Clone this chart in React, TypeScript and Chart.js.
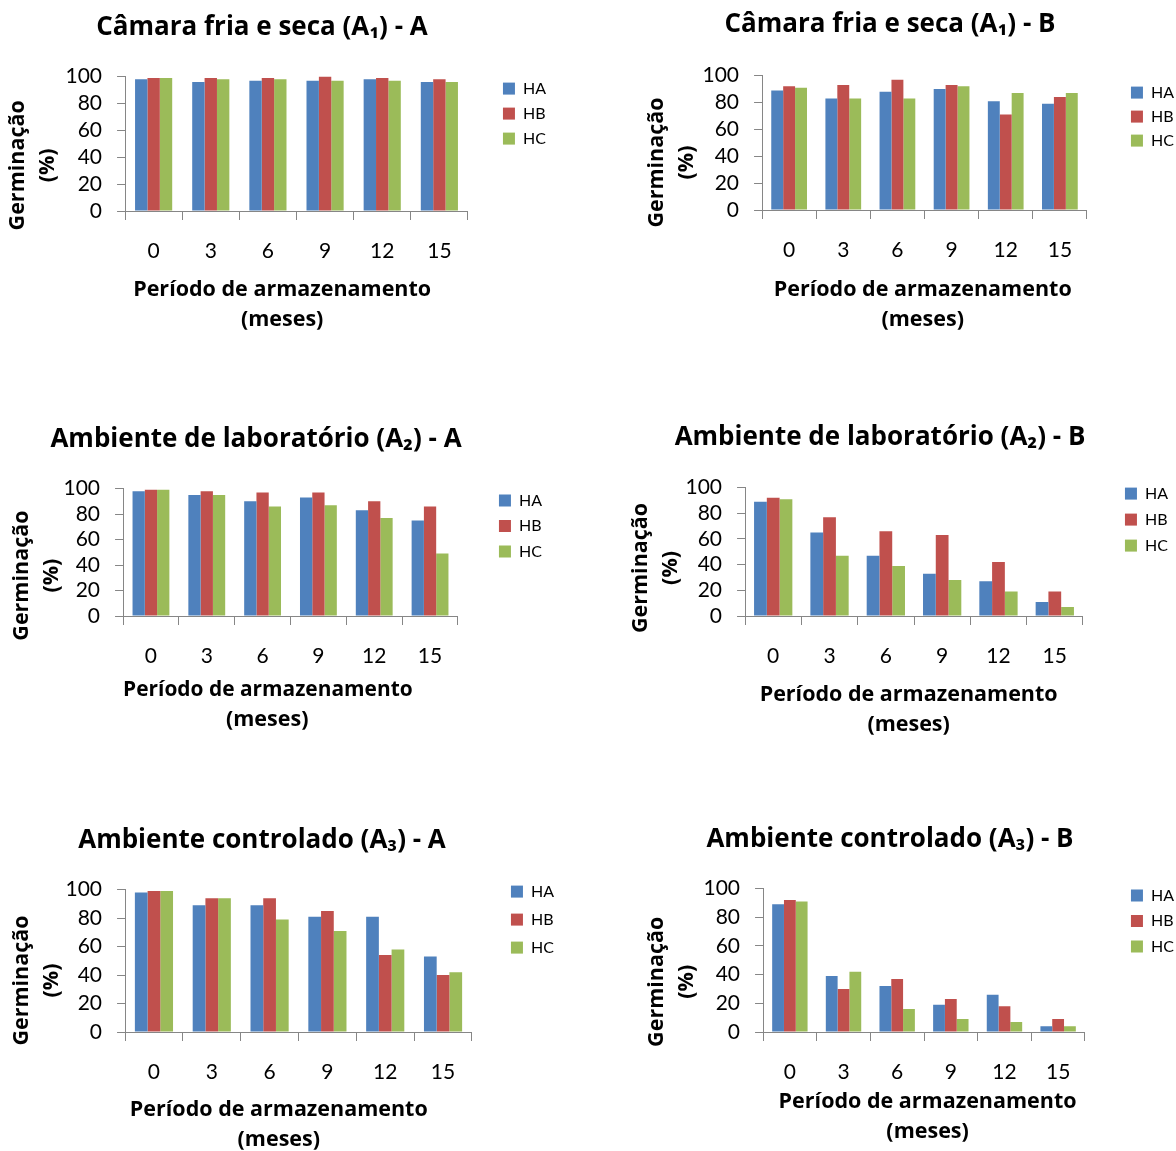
import React, { useEffect, useRef } from 'react';
import { Chart, registerables } from 'chart.js';

Chart.register(...registerables);

// ---------- data ----------
const periods = ['0', '3', '6', '9', '12', '15'];
const seriesNames = ['HA', 'HB', 'HC'];
const seriesColors = ['#4F81BD', '#C0504D', '#9BBB59'];
const yMin = 0;
const yMax = 100;
const yStep = 20;

const a1A_HA = [98, 96, 97, 97, 98, 96];
const a1A_HB = [99, 99, 99, 100, 99, 98];
const a1A_HC = [99, 98, 98, 97, 97, 96];

const a1B_HA = [89, 83, 88, 90, 81, 79];
const a1B_HB = [92, 93, 97, 93, 71, 84];
const a1B_HC = [91, 83, 83, 92, 87, 87];

const a2A_HA = [98, 95, 90, 93, 83, 75];
const a2A_HB = [99, 98, 97, 97, 90, 86];
const a2A_HC = [99, 95, 86, 87, 77, 49];

const a2B_HA = [89, 65, 47, 33, 27, 11];
const a2B_HB = [92, 77, 66, 63, 42, 19];
const a2B_HC = [91, 47, 39, 28, 19, 7];

const a3A_HA = [98, 89, 89, 81, 81, 53];
const a3A_HB = [99, 94, 94, 85, 54, 40];
const a3A_HC = [99, 94, 79, 71, 58, 42];

const a3B_HA = [89, 39, 32, 19, 26, 4];
const a3B_HB = [92, 30, 37, 23, 18, 9];
const a3B_HC = [91, 42, 16, 9, 7, 4];

const panelTitles = [
  'Câmara fria e seca (A\u2081) - A',
  'Câmara fria e seca (A\u2081) - B',
  'Ambiente de laboratório (A\u2082) - A',
  'Ambiente de laboratório (A\u2082) - B',
  'Ambiente controlado (A\u2083) - A',
  'Ambiente controlado (A\u2083) - B',
];
const yTitleLines = ['Germinação', '(%)'];
const xTitleLines = ['Período de armazenamento', '(meses)'];

const panelSeries = [
  [a1A_HA, a1A_HB, a1A_HC],
  [a1B_HA, a1B_HB, a1B_HC],
  [a2A_HA, a2A_HB, a2A_HC],
  [a2B_HA, a2B_HB, a2B_HC],
  [a3A_HA, a3A_HB, a3A_HC],
  [a3B_HA, a3B_HB, a3B_HC],
];

// ---------- layout (page pixel targets) ----------
type Geo = {
  tcx: number; ty: number; cl: number; cr: number; ct: number; cb: number;
  gx: number; gyc: number; xcx: number; xl2: number; boxX: number; row1: number; rowGap: number;
  catPct: number;
};
const geos: Geo[] = [
  { tcx: 262, ty: 28, cl: 125, cr: 468, ct: 77, cb: 211, gx: 18, gyc: 165, xcx: 283, xl2: 320, boxX: 503, row1: 89, rowGap: 25, catPct: 0.65 },
  { tcx: 890, ty: 25, cl: 762, cr: 1087, ct: 76, cb: 210, gx: 657, gyc: 163, xcx: 922, xl2: 320, boxX: 1131, row1: 93, rowGap: 24, catPct: 0.66 },
  { tcx: 256, ty: 440, cl: 123, cr: 458, ct: 489, cb: 616, gx: 22, gyc: 575, xcx: 267, xl2: 720, boxX: 499, row1: 501, rowGap: 25.5, catPct: 0.66 },
  { tcx: 880, ty: 438, cl: 745, cr: 1083, ct: 488, cb: 616, gx: 641, gyc: 568, xcx: 908, xl2: 725, boxX: 1125, row1: 494, rowGap: 26, catPct: 0.68 },
  { tcx: 262, ty: 841, cl: 125, cr: 472, ct: 890, cb: 1032, gx: 22, gyc: 980, xcx: 279, xl2: 1140, boxX: 511, row1: 892, rowGap: 28, catPct: 0.66 },
  { tcx: 890, ty: 840, cl: 763, cr: 1085, ct: 889, cb: 1032, gx: 657, gyc: 982, xcx: 927, xl2: 1132, boxX: 1131, row1: 896, rowGap: 25.5, catPct: 0.66 },
];

const FONT = "Lato, 'Noto Sans', 'DejaVu Sans', sans-serif";
const TFONT = "'Open Sans', 'Noto Sans', 'DejaVu Sans', sans-serif";
const TITLE_SIZE = 26;
const TITLE_LH = TITLE_SIZE * 1.2;
const TITLE_PAD_TOP = 4;
const TICK_SIZE = 21;
const AXT_SIZE = 21.5;
const AXT_LH = 30;
const LEG_SIZE = 16;
const LEG_BOX = 12;
const AXIS_COLOR = '#868686';

function spaces(px: number, size: number): string {
  if (px <= 0) return '';
  const n = Math.floor(px / size);
  const rem = px - n * size;
  const m = Math.round(rem / (size / 6));
  return '\u2003'.repeat(n) + '\u2006'.repeat(m);
}

function measureLegend(): number {
  const c = document.createElement('canvas').getContext('2d');
  if (!c) return 24;
  c.font = `${LEG_SIZE}px ${FONT}`;
  return Math.max(...seriesNames.map((s) => c.measureText(s).width));
}

function Panel({ idx }: { idx: number }) {
  const ref = useRef<HTMLCanvasElement | null>(null);
  const g = geos[idx];
  const textW = measureLegend();
  const p = g.rowGap - LEG_SIZE;
  const itemW = LEG_BOX + LEG_SIZE / 2 + textW;
  const legendW = p + itemW + 10;
  const canvasRight = g.boxX - p + legendW;
  const L = 2 * g.tcx - canvasRight;
  const W = canvasRight - L;
  const T = g.ty - TITLE_PAD_TOP - TITLE_LH / 2;
  const H = g.xl2 + AXT_LH / 2 + 2 - T;
  const titlePadBottom = g.ct - T - TITLE_PAD_TOP - TITLE_LH;
  const legTitlePad = g.row1 - LEG_SIZE / 2 - p - T - 1;
  const xAxisH = T + H - g.cb;
  const yAxisW = g.cl - L;
  const gapW = g.boxX - p - g.cr;
  const yTitlePad = g.gx - L - AXT_LH / 2;
  const yShift = g.gyc - (g.ct + g.cb) / 2;
  const xShift = (g.cl + g.cr) / 2 - g.xcx;
  const ySp = spaces(2 * yShift, AXT_SIZE);
  const yText = yTitleLines.map((t) => t + ySp);
  const xText = xTitleLines.map((t) =>
    xShift >= 0 ? t + spaces(2 * xShift, AXT_SIZE) : spaces(-2 * xShift, AXT_SIZE) + t
  );

  useEffect(() => {
    if (!ref.current) return;
    const chart = new Chart(ref.current, {
      type: 'bar',
      data: {
        labels: periods,
        datasets: seriesNames.map((name, i) => ({
          label: name,
          data: panelSeries[idx][i],
          backgroundColor: seriesColors[i],
          borderWidth: 0,
          categoryPercentage: g.catPct,
          barPercentage: 1.0,
        })),
      },
      options: {
        responsive: false,
        animation: false,
        devicePixelRatio: 1,
        layout: { padding: 0 },
        plugins: {
          tooltip: { enabled: false },
          title: {
            display: true,
            text: panelTitles[idx],
            color: '#000',
            fullSize: true,
            font: { family: TFONT, size: TITLE_SIZE, weight: 'bold', lineHeight: 1.2 },
            padding: { top: TITLE_PAD_TOP, bottom: titlePadBottom },
          },
          legend: {
            display: true,
            position: 'right',
            align: 'start',
            fullSize: true,
            title: { display: true, text: '', padding: { top: legTitlePad, bottom: 0 }, font: { size: 1, lineHeight: 1 } },
            labels: {
              boxWidth: LEG_BOX,
              boxHeight: LEG_BOX,
              padding: p,
              color: '#000',
              font: { family: FONT, size: LEG_SIZE },
            },
          },
        },
        scales: {
          x: {
            type: 'category',
            offset: true,
            grid: { display: true, offset: true, drawOnChartArea: false, drawTicks: true, tickLength: 9, color: AXIS_COLOR },
            border: { display: true, color: AXIS_COLOR },
            ticks: { color: '#000', font: { family: FONT, size: TICK_SIZE, lineHeight: 1.2 }, padding: 19, maxRotation: 0, autoSkip: false },
            title: {
              display: true,
              text: xText,
              color: '#000',
              font: { family: TFONT, size: AXT_SIZE, weight: 'bold', lineHeight: AXT_LH / AXT_SIZE },
              padding: { top: 0, bottom: 2 },
            },
            afterFit: (s: any) => { s.height = xAxisH; },
          },
          y: {
            min: yMin,
            max: yMax,
            grid: { display: true, drawOnChartArea: false, drawTicks: true, tickLength: 8, color: AXIS_COLOR },
            border: { display: true, color: AXIS_COLOR },
            ticks: { stepSize: yStep, autoSkip: false, color: '#000', font: { family: FONT, size: TICK_SIZE, lineHeight: 1.2 }, padding: 15 },
            title: {
              display: true,
              text: yText,
              color: '#000',
              font: { family: TFONT, size: AXT_SIZE, weight: 'bold', lineHeight: AXT_LH / AXT_SIZE },
              padding: { top: yTitlePad, bottom: 0 },
            },
            afterFit: (s: any) => { s.width = yAxisW; },
          },
          gap: {
            type: 'linear',
            position: 'right',
            display: true,
            grid: { display: false },
            border: { display: false },
            ticks: { display: false },
            title: { display: false },
            afterFit: (s: any) => { s.width = gapW; },
          },
        },
      } as any,
    });
    return () => chart.destroy();
  }, [idx]);

  return (
    <canvas
      ref={ref}
      width={Math.round(W)}
      height={Math.round(H)}
      style={{ position: 'absolute', left: Math.round(L), top: Math.round(T), width: Math.round(W), height: Math.round(H) }}
    />
  );
}

export default function App() {
  return (
    <div style={{ position: 'absolute', left: 0, top: 0, width: 1176, height: 1151, overflow: 'hidden', background: '#fff' }}>
      {geos.map((_, i) => (
        <Panel key={i} idx={i} />
      ))}
    </div>
  );
}
